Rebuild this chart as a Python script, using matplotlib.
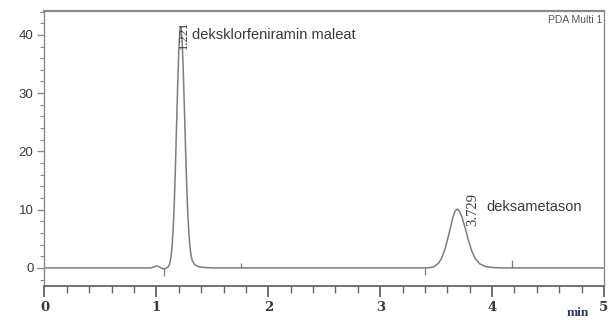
import matplotlib
matplotlib.use("Agg")
import matplotlib.pyplot as plt
from matplotlib.ticker import MultipleLocator

# ---- data ----
time_min = [0.00, 0.95, 0.98, 1.00, 1.02, 1.04, 1.06, 1.08,
            1.10, 1.11, 1.12, 1.13, 1.14, 1.15, 1.16, 1.17, 1.18, 1.19,
            1.20, 1.21, 1.22, 1.23, 1.24, 1.25, 1.26, 1.27, 1.28, 1.29,
            1.30, 1.31, 1.32, 1.34, 1.37, 1.42, 1.50,
            3.40, 3.44, 3.48, 3.52, 3.55, 3.58, 3.61, 3.63, 3.65, 3.67,
            3.69, 3.71, 3.73, 3.76, 3.79, 3.82, 3.85, 3.89, 3.94, 4.01,
            4.10, 5.00]
signal_mau = [0.0, 0.0, 0.2, 0.35, 0.25, 0.0, -0.15, -0.1,
              0.1, 0.3, 0.8, 1.8, 3.7, 6.7, 11.2, 17.3, 24.3, 31.3,
              37.2, 40.8, 41.3, 38.9, 34.0, 27.6, 20.8, 14.6, 9.6, 6.0,
              3.6, 2.1, 1.3, 0.6, 0.25, 0.1, 0.0,
              0.0, 0.05, 0.2, 0.8, 1.7, 3.3, 5.5, 7.1, 8.7, 9.8,
              10.1, 9.7, 8.8, 6.8, 4.6, 2.8, 1.6, 0.7, 0.25, 0.06,
              0.0, 0.0]

event_t = [1.07, 1.76, 3.40, 4.18]
event_dy = [-1.4, 0.8, -1.2, 1.3]

peak_names = ["deksklorfeniramin maleat", "deksametason"]
peak_rt_labels = ["1.221", "3.729"]

x_ticks = [0, 1, 2, 3, 4, 5]
y_ticks = [0, 10, 20, 30, 40]

# ---- figure ----
W, H = 609, 320
fig = plt.figure(figsize=(W / 100, H / 100), dpi=100)
ax = fig.add_axes([44.5 / W, 1 - 286 / H, (604 - 44.5) / W, (286 - 11) / H])

line_c = "#7d7d7d"
axis_c = "#8a8a8a"
text_c = "#3a3a3a"

ax.plot(time_min, signal_mau, color=line_c, lw=1.1)
ax.vlines(event_t, 0, event_dy, color=line_c, lw=0.9)

ax.set_xlim(0, 5)
ax.set_ylim(-3.1, 44.1)

ax.xaxis.set_major_locator(MultipleLocator(1))
ax.xaxis.set_minor_locator(MultipleLocator(0.2))
ax.yaxis.set_major_locator(MultipleLocator(10))
ax.yaxis.set_minor_locator(MultipleLocator(2))
ax.set_xticks(x_ticks)
ax.set_yticks(y_ticks)

for s in ax.spines.values():
    s.set_color(axis_c)
    s.set_linewidth(1.0)
ax.spines["top"].set_linewidth(1.6)
ax.spines["bottom"].set_color("#666666")
ax.spines["bottom"].set_linewidth(1.3)

ax.tick_params(axis="x", which="major", direction="out", length=8, width=1.2,
               color="#555555", labelsize=9.5, labelcolor=text_c, pad=3)
ax.tick_params(axis="x", which="minor", direction="out", length=5, width=1.0,
               color="#666666")
ax.tick_params(axis="y", which="major", direction="out", length=5, width=1.0,
               color=axis_c, labelsize=9.5, labelcolor=text_c, pad=3)
ax.tick_params(axis="y", which="minor", direction="out", length=3, width=0.8,
               color=axis_c)
for lab in ax.get_xticklabels():
    lab.set_family("DejaVu Serif")
    lab.set_fontweight("bold")
for lab in ax.get_yticklabels():
    lab.set_family("Liberation Sans")

# annotations
ax.text(1.245, 40.0, peak_rt_labels[0], rotation=90, ha="center", va="center",
        fontsize=9, family="Liberation Serif", color=text_c)
ax.text(1.32, 40.0, peak_names[0], ha="left", va="center",
        fontsize=10.5, family="Liberation Sans", color=text_c)
ax.text(3.83, 10.0, peak_rt_labels[1], rotation=90, ha="center", va="center",
        fontsize=10.5, family="Liberation Serif", color=text_c)
ax.text(3.95, 10.5, peak_names[1], ha="left", va="center",
        fontsize=10.5, family="Liberation Sans", color=text_c)
ax.text(0.997, 0.985, "PDA Multi 1", transform=ax.transAxes, ha="right", va="top",
        fontsize=7.5, family="Liberation Sans", color="#555555")

fig.text(578 / W, 1 - 313 / H, "min", ha="center", va="center", fontsize=9.5,
         family="Liberation Serif", fontweight="bold", color="#2c3a5c")

fig.savefig("out.png", dpi=100, facecolor="white")
